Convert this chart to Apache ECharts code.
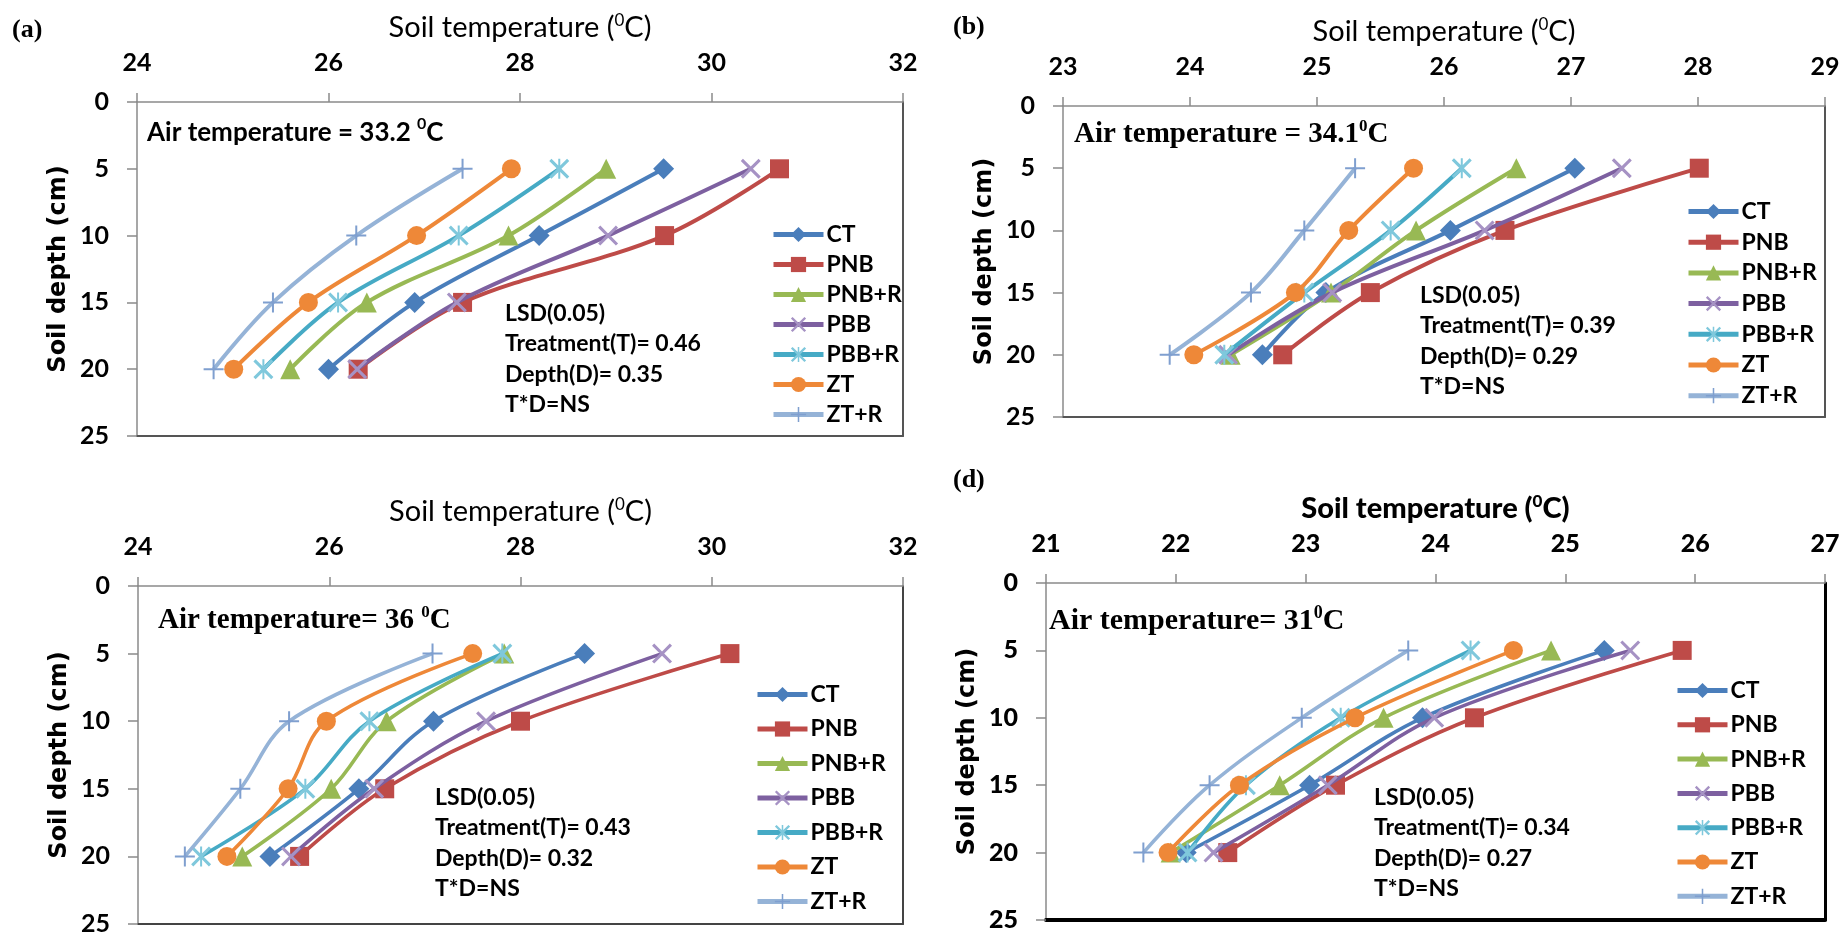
<!DOCTYPE html>
<html><head><meta charset="utf-8">
<script src="https://cdn.jsdelivr.net/npm/echarts@6/dist/echarts.min.js"></script>
<style>html,body{margin:0;padding:0;background:#fff}#c{width:1845px;height:938px}</style>
</head><body><div id="c"></div>
<script>
// ---------------- data ----------------
const depths = [5, 10, 15, 20];
const treatments = ['CT', 'PNB', 'PNB+R', 'PBB', 'PBB+R', 'ZT', 'ZT+R'];
// soil temperature (°C) at 5,10,15,20 cm, rows in treatment order
const panelA = [
  [29.50, 28.20, 26.90, 26.00],
  [30.71, 29.51, 27.40, 26.31],
  [28.90, 27.88, 26.40, 25.60],
  [30.41, 28.92, 27.34, 26.30],
  [28.41, 27.36, 26.10, 25.32],
  [27.91, 26.92, 25.79, 25.01],
  [27.40, 26.29, 25.42, 24.80]
];
const panelB = [
  [27.03, 26.05, 25.07, 24.57],
  [28.01, 26.48, 25.42, 24.73],
  [26.57, 25.78, 25.11, 24.32],
  [27.40, 26.32, 25.12, 24.30],
  [26.14, 25.58, 24.90, 24.27],
  [25.76, 25.25, 24.83, 24.03],
  [25.30, 24.90, 24.48, 23.84]
];
const panelC = [
  [28.67, 27.09, 26.31, 25.38],
  [30.19, 28.00, 26.58, 25.69],
  [27.83, 26.60, 26.02, 25.09],
  [29.48, 27.64, 26.47, 25.60],
  [27.81, 26.42, 25.75, 24.66],
  [27.50, 25.97, 25.57, 24.93],
  [27.08, 25.58, 25.07, 24.49]
];
const panelD = [
  [25.30, 23.90, 23.03, 22.08],
  [25.90, 24.30, 23.23, 22.40],
  [24.89, 23.60, 22.80, 21.96],
  [25.50, 23.99, 23.17, 22.29],
  [24.27, 23.27, 22.54, 22.09],
  [24.60, 23.38, 22.49, 21.94],
  [23.79, 22.97, 22.26, 21.75]
];
// x axis ranges [min, max, interval]
const xRangeA = [24, 32, 2];
const xRangeB = [23, 29, 1];
const xRangeC = [24, 32, 2];
const xRangeD = [21, 27, 1];
const depthRange = [0, 25, 5];
const panelLetters = ['(a)', '(b)', '', '(d)'];
const airTempText = ['Air temperature = 33.2 {s|0}C', 'Air temperature = 34.1{s|0}C', 'Air temperature= 36 {s|0}C', 'Air temperature= 31{s|0}C'];
const lsdTreatment = ['0.46', '0.39', '0.43', '0.34'];
const lsdDepth = ['0.35', '0.29', '0.32', '0.27'];
const lsdInteraction = ['NS', 'NS', 'NS', 'NS'];

// ---------------- styles ----------------
const lineColors = ['#4A7EBB', '#BE4B48', '#98B954', '#7D60A0', '#46AAC5', '#EE8838', '#95B3D7'];
const markColors = ['#4A7EBB', '#BE4B48', '#98B954', '#A692C4', '#7FC8DC', '#EE8838', '#7F9FCF'];
const X_PATH = 'M0,1.1L1.1,0L5,3.9L8.9,0L10,1.1L6.1,5L10,8.9L8.9,10L5,6.1L1.1,10L0,8.9L3.9,5Z';
const V_PATH = 'M4.5,0L5.5,0L5.5,10L4.5,10Z';
const PLUS_PATH = 'M4.5,0L5.5,0L5.5,4.5L10,4.5L10,5.5L5.5,5.5L5.5,10L4.5,10L4.5,5.5L0,5.5L0,4.5L4.5,4.5Z';
const symbols = ['diamond', 'rect', 'triangle', 'path://' + X_PATH, 'path://' + X_PATH + V_PATH, 'circle', 'path://' + PLUS_PATH];
const symbolSizes = [21, 19, 20, 20, 20, 19, 20];

const SANS = 'Lato, "Open Sans", sans-serif';
const SERIF = '"Liberation Serif", "Times New Roman", serif';
const VERD = '"DejaVu Sans", Verdana, sans-serif';

const grids = [
  { left: 137, top: 102, width: 766, height: 334 },
  { left: 1063, top: 106, width: 762, height: 311 },
  { left: 138, top: 586, width: 765, height: 338 },
  { left: 1046, top: 583, width: 779, height: 337 }
];
const panels = [panelA, panelB, panelC, panelD];
const xRanges = [xRangeA, xRangeB, xRangeC, xRangeD];
const heavy = [false, false, false, true];
const frameStyle = [
  { color: '#555', width: 2 }, { color: '#555', width: 2 },
  { color: '#444', width: 2 }, { color: '#000', width: 4 }
];
const frameRight = [
  { color: '#555', width: 2 }, { color: '#555', width: 2 },
  { color: '#444', width: 2 }, { color: '#000', width: 3 }
];
const legendPos = [
  { left: 766, top: 218, gap: 7 },
  { left: 1681, top: 195, gap: 7.7 },
  { left: 750, top: 678, gap: 11.5 },
  { left: 1670, top: 674, gap: 11.3 }
];
const letterPos = [[12, 30], [953, 27], [0, 0], [953, 480]];
const airPos = [[147, 133], [1074, 135], [158, 621], [1049, 621]];
const airFont = [
  { fontFamily: SANS, fontSize: 26 },
  { fontFamily: SERIF, fontSize: 29 },
  { fontFamily: SERIF, fontSize: 29 },
  { fontFamily: SERIF, fontSize: 30 }
];
const lsdPos = [[505, 298], [1420, 280], [435, 782], [1374, 782]];
const lineWidths = [4, 4, 3.6, 3.6];

const xAxes = [], yAxes = [], series = [], legends = [], graphics = [];
grids.forEach((g, p) => {
  const r = xRanges[p];
  const w = heavy[p] ? 900 : 'bold';
  xAxes.push({
    type: 'value', gridIndex: p, position: 'top', min: r[0], max: r[1], interval: r[2],
    name: 'Soil temperature ({s|0}C)', nameLocation: 'middle', nameGap: 58,
    nameTextStyle: {
      fontFamily: SANS, fontSize: 29, fontWeight: heavy[p] ? 900 : 'normal', color: '#000', lineHeight: 32,
      rich: { s: { fontFamily: SANS, fontSize: 17, fontWeight: heavy[p] ? 900 : 'normal', lineHeight: 17, verticalAlign: 'top', color: '#000' } }
    },
    axisLine: { onZero: false, lineStyle: { color: '#8a8a8a', width: 1.5 } },
    axisTick: { show: true, inside: false, length: 9, lineStyle: { color: '#8a8a8a', width: 1.5 } },
    axisLabel: { margin: 27, fontFamily: SANS, fontSize: 25, fontWeight: w, color: '#000' },
    splitLine: { show: false }
  });
  yAxes.push({
    type: 'value', gridIndex: p, inverse: true, min: depthRange[0], max: depthRange[1], interval: depthRange[2],
    name: 'Soil depth (cm)', nameLocation: 'middle', nameRotate: 90, nameGap: 66,
    nameTextStyle: { fontFamily: VERD, fontSize: 24, fontWeight: 'bold', color: '#000' },
    axisLine: { onZero: false, lineStyle: { color: '#8a8a8a', width: 1.5 } },
    axisTick: { show: true, inside: false, length: 10, lineStyle: { color: '#8a8a8a', width: 1.5 } },
    axisLabel: { margin: 28, fontFamily: SANS, fontSize: 25, fontWeight: w, color: '#000' },
    splitLine: { show: false }
  });
  panels[p].forEach((vals, s) => {
    series.push({
      type: 'line', name: treatments[s], xAxisIndex: p, yAxisIndex: p,
      data: vals.map((t, i) => [t, depths[i]]),
      smooth: 0.35,
      symbol: symbols[s], symbolSize: symbolSizes[s],
      lineStyle: { color: lineColors[s], width: lineWidths[p] },
      itemStyle: { color: markColors[s], borderWidth: 0 },
      emphasis: { disabled: true },
      z: 2 + s
    });
  });
  legends.push({
    data: treatments, orient: 'vertical', left: legendPos[p].left, top: legendPos[p].top,
    itemGap: legendPos[p].gap, itemWidth: 50, itemHeight: 19, selectedMode: false,
    lineStyle: { width: 5 },
    textStyle: { fontFamily: SANS, fontSize: 23, fontWeight: 'bold', color: '#000', lineHeight: 23, padding: [0, 0, 0, -2] }
  });
  if (panelLetters[p]) {
    graphics.push({ type: 'text', x: letterPos[p][0], y: letterPos[p][1],
      style: { text: panelLetters[p], fontFamily: SERIF, fontSize: 26, fontWeight: 'bold', fill: '#000', textVerticalAlign: 'middle' } });
  }
  graphics.push({ type: 'text', x: airPos[p][0], y: airPos[p][1],
    style: { text: airTempText[p], fontFamily: airFont[p].fontFamily, fontSize: airFont[p].fontSize, fontWeight: 'bold', fill: '#000',
      lineHeight: 34, textVerticalAlign: 'middle',
      rich: { s: { fontFamily: airFont[p].fontFamily, fontSize: Math.round(airFont[p].fontSize * 0.6), fontWeight: 'bold', lineHeight: 17, verticalAlign: 'top', fill: '#000' } } } });
  graphics.push({ type: 'text', x: lsdPos[p][0], y: lsdPos[p][1],
    style: { text: 'LSD(0.05)\nTreatment(T)= ' + lsdTreatment[p] + '\nDepth(D)= ' + lsdDepth[p] + '\nT*D=' + lsdInteraction[p],
      fontFamily: SANS, fontSize: 23, fontWeight: 'bold', fill: '#000', lineHeight: 30.5, textVerticalAlign: 'top' } });
});
// frame (bottom and right borders of each plot area)
grids.forEach((g, p) => {
  const r = xRanges[p];
  xAxes.push({ type: 'value', gridIndex: p, position: 'bottom', min: r[0], max: r[1], interval: r[2],
    axisLine: { onZero: false, lineStyle: frameStyle[p] }, axisTick: { show: false }, axisLabel: { show: false }, splitLine: { show: false } });
  yAxes.push({ type: 'value', gridIndex: p, position: 'right', inverse: true, min: depthRange[0], max: depthRange[1], interval: depthRange[2],
    axisLine: { onZero: false, lineStyle: frameRight[p] }, axisTick: { show: false }, axisLabel: { show: false }, splitLine: { show: false } });
});

const chart = echarts.init(document.getElementById('c'), null, { renderer: 'canvas' });
chart.setOption({
  animation: false,
  backgroundColor: '#fff',
  grid: grids.map(g => Object.assign({ containLabel: false }, g)),
  xAxis: xAxes, yAxis: yAxes, series: series, legend: legends, graphic: graphics
});
</script></body></html>
